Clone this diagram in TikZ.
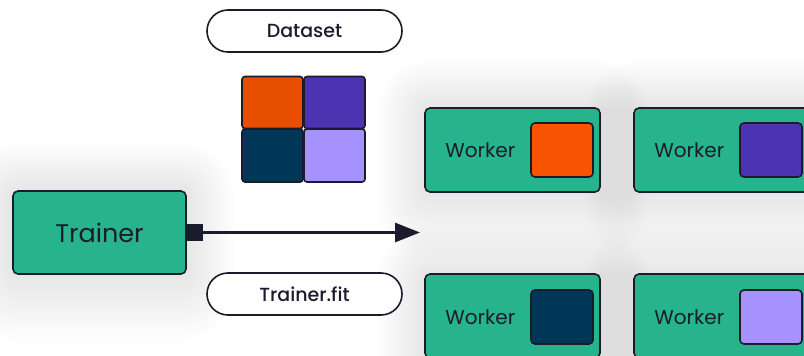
\documentclass[tikz,border=0pt]{standalone}
\usepackage{fontspec}
\setmainfont{Poppins}
\newfontfamily\medfont{Poppins Medium}
\usetikzlibrary{arrows.meta,backgrounds}

\definecolor{boxgreen}{HTML}{27B48C}
\definecolor{edgedark}{HTML}{1B1B2B}
\definecolor{shardorange}{HTML}{F75300}
\definecolor{shardpurple}{HTML}{4B33B2}
\definecolor{shardnavy}{HTML}{003758}
\definecolor{shardlilac}{HTML}{A592FF}

% soft grey halo behind a node, built from stacked translucent layers
\newcommand{\softglow}[1]{%
  \foreach \k in {1,...,24}{%
    \pgfmathsetmacro{\d}{2*\k}%
    \fill[black, opacity=0.0031, rounded corners=\d pt+5pt]
      ([xshift=-\d pt, yshift=\d pt]#1.north west) rectangle
      ([xshift=\d pt, yshift=-\d pt-0.4*\d pt]#1.south east);
  }%
}

\tikzset{
  greenbox/.style={draw=edgedark, line width=1.6pt, fill=boxgreen,
      rounded corners=5pt, inner sep=0pt},
  pill/.style={draw=edgedark, line width=1.6pt, fill=white,
      rounded corners=21pt, minimum width=195pt, minimum height=42pt,
      inner sep=0pt, font=\medfont\fontsize{19}{19}\selectfont, text=edgedark},
  shard/.style={draw=edgedark, line width=1.6pt, rounded corners=3pt,
      minimum width=61pt, minimum height=52pt, inner sep=0pt},
  workerbox/.style={greenbox, minimum width=175pt, minimum height=84pt},
  workerlabel/.style={font=\fontsize{20}{20}\selectfont, text=edgedark,
      anchor=west, inner sep=0pt},
  chip/.style={draw=edgedark, line width=1.6pt, rounded corners=4pt,
      minimum width=62pt, minimum height=54pt, inner sep=0pt}
}

\begin{document}
\begin{tikzpicture}[x=1pt, y=-1pt]
  \useasboundingbox (0,0) rectangle (804,356);
  \clip (0,0) rectangle (804,356);

  % trainer and its output port
  \node[greenbox, minimum width=173pt, minimum height=83pt,
        font=\fontsize{25.5}{25.5}\selectfont, text=edgedark]
        (trainer) at (99.5,232.5) {Trainer};
  \node[fill=edgedark, minimum width=16pt, minimum height=17pt,
        inner sep=0pt, anchor=west] (port) at (trainer.east) {};
  \coordinate (tip) at (420,232.5);
  \draw[edgedark, line width=3pt,
        -{Triangle[length=25pt, width=19pt]}] (port.east) -- (tip);

  % labels
  \node[pill] (dataset) at (304.5,31) {Dataset};
  \node[pill] (fitcall) at (304.5,294) {Trainer.fit};

  % dataset split into four shards
  \node[shard, fill=shardorange!94!black] (s1) at (272.5,102.5) {};
  \node[shard, fill=shardpurple] (s2) at (334.5,102.5) {};
  \node[shard, fill=shardnavy, minimum height=53pt] (s3) at (272.5,155.5) {};
  \node[shard, fill=shardlilac, minimum height=53pt] (s4) at (334.5,155.5) {};

  % workers, each holding one shard
  \node[workerbox] (w1) at (512.5,150) {};
  \node[workerbox] (w2) at (721.5,150) {};
  \node[workerbox] (w3) at (512.5,316) {};
  \node[workerbox] (w4) at (721.5,316) {};

  \foreach \w/\c in {w1/shardorange, w2/shardpurple} {
    \node[workerlabel] (\w-text) at ([xshift=21pt]\w.west) {Worker};
    \node[chip, fill=\c, anchor=east] (\w-chip) at ([xshift=-7pt]\w.east) {};
  }
  \foreach \w/\c in {w3/shardnavy, w4/shardlilac} {
    \node[workerlabel] (\w-text) at ([xshift=21pt, yshift=-1pt]\w.west) {Worker};
    \node[chip, fill=\c, anchor=east] (\w-chip) at ([xshift=-7pt, yshift=-1pt]\w.east) {};
  }

  % white canvas with soft halos behind the boxes
  \begin{pgfonlayer}{background}
    \fill[white] (0,0) rectangle (804,356);
    \softglow{trainer}
    \softglow{w1}
    \softglow{w2}
    \softglow{w3}
    \softglow{w4}
  \end{pgfonlayer}
\end{tikzpicture}
\end{document}
